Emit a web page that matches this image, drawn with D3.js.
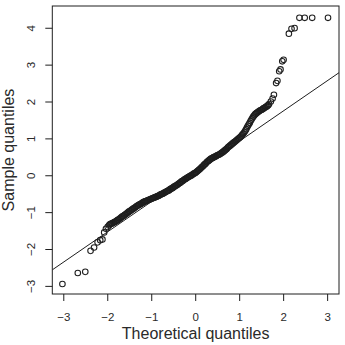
<!DOCTYPE html>
<html>
<head>
<meta charset="utf-8">
<script src="https://cdn.jsdelivr.net/npm/d3@7"></script>
<style>
  html, body { margin: 0; padding: 0; background: #fff; }
  svg { display: block; }
</style>
</head>
<body>
<svg id="chart" width="345" height="345"></svg>
<script>
// ---- data ----
const xTicks = [-3, -2, -1, 0, 1, 2, 3];
const yTicks = [-3, -2, -1, 0, 1, 2, 3, 4];
const xTitle = "Theoretical quantiles";
const yTitle = "Sample quantiles";

// lower tail: [theoretical, sample]
const lowerTail = [
  [-3.02,-2.95],[-2.67,-2.65],[-2.50,-2.62],[-2.38,-2.05],[-2.30,-1.96],[-2.22,-1.82],
  [-2.16,-1.76],[-2.11,-1.74],[-2.07,-1.55],[-2.03,-1.45],[-1.99,-1.40],[-1.96,-1.36]
];
// central band: [theoretical, sample]
const centralBand = [
  [-1.94,-1.33],[-1.90,-1.31],[-1.86,-1.29],[-1.82,-1.26],[-1.78,-1.23],[-1.74,-1.20],
  [-1.70,-1.16],[-1.66,-1.12],[-1.62,-1.09],[-1.58,-1.06],[-1.54,-1.02],[-1.50,-0.98],
  [-1.46,-0.95],[-1.42,-0.92],[-1.38,-0.88],[-1.34,-0.85],[-1.30,-0.82],[-1.26,-0.79],
  [-1.22,-0.76],[-1.18,-0.73],[-1.14,-0.71],[-1.10,-0.69],[-1.06,-0.67],[-1.02,-0.65],
  [-0.98,-0.63],[-0.94,-0.61],[-0.90,-0.59],[-0.86,-0.57],[-0.82,-0.55],[-0.78,-0.52],
  [-0.74,-0.50],[-0.70,-0.47],[-0.66,-0.45],[-0.62,-0.42],[-0.58,-0.39],[-0.54,-0.36],
  [-0.50,-0.33],[-0.46,-0.30],[-0.42,-0.27],[-0.38,-0.23],[-0.34,-0.20],[-0.30,-0.16],
  [-0.26,-0.13],[-0.22,-0.10],[-0.18,-0.07],[-0.14,-0.04],[-0.10,-0.01],[-0.06,0.02],
  [-0.02,0.05],[0.02,0.08],[0.06,0.12],[0.10,0.16],[0.14,0.21],[0.18,0.25],
  [0.22,0.30],[0.26,0.35],[0.30,0.39],[0.34,0.43],[0.38,0.46],[0.42,0.49],
  [0.46,0.51],[0.50,0.54],[0.54,0.56],[0.58,0.59],[0.62,0.62],[0.66,0.66],
  [0.70,0.70],[0.74,0.75],[0.78,0.79],[0.82,0.83],[0.86,0.87],[0.90,0.91],
  [0.94,0.95],[0.98,0.99],[1.02,1.03],[1.06,1.08],[1.10,1.14],[1.14,1.21],
  [1.18,1.30],[1.22,1.38],[1.26,1.47],[1.30,1.55],[1.34,1.62],[1.38,1.67],
  [1.42,1.71],[1.46,1.74],[1.50,1.77],[1.54,1.80],[1.58,1.83],[1.62,1.86],
  [1.66,1.90]
];
// central band, points lying between the ones above: [theoretical, sample]
const centralBandB = [
  [-1.92,-1.32],[-1.88,-1.30],[-1.84,-1.27],[-1.80,-1.25],[-1.76,-1.21],[-1.72,-1.18],
  [-1.68,-1.14],[-1.64,-1.11],[-1.60,-1.07],[-1.56,-1.04],[-1.52,-1.00],[-1.48,-0.97],
  [-1.44,-0.93],[-1.40,-0.90],[-1.36,-0.87],[-1.32,-0.83],[-1.28,-0.80],[-1.24,-0.78],
  [-1.20,-0.75],[-1.16,-0.72],[-1.12,-0.70],[-1.08,-0.68],[-1.04,-0.66],[-1.00,-0.64],
  [-0.96,-0.62],[-0.92,-0.60],[-0.88,-0.58],[-0.84,-0.56],[-0.80,-0.53],[-0.76,-0.51],
  [-0.72,-0.49],[-0.68,-0.46],[-0.64,-0.43],[-0.60,-0.41],[-0.56,-0.37],[-0.52,-0.35],
  [-0.48,-0.31],[-0.44,-0.28],[-0.40,-0.25],[-0.36,-0.22],[-0.32,-0.18],[-0.28,-0.15],
  [-0.24,-0.11],[-0.20,-0.08],[-0.16,-0.05],[-0.12,-0.02],[-0.08,0.00],[-0.04,0.04],
  [0.00,0.06],[0.04,0.10],[0.08,0.14],[0.12,0.18],[0.16,0.23],[0.20,0.28],
  [0.24,0.32],[0.28,0.37],[0.32,0.41],[0.36,0.45],[0.40,0.47],[0.44,0.50],
  [0.48,0.52],[0.52,0.55],[0.56,0.57],[0.60,0.61],[0.64,0.64],[0.68,0.68],
  [0.72,0.72],[0.76,0.77],[0.80,0.81],[0.84,0.85],[0.88,0.89],[0.92,0.93],
  [0.96,0.97],[1.00,1.01],[1.04,1.05],[1.08,1.11],[1.12,1.17],[1.16,1.25],
  [1.20,1.34],[1.24,1.42],[1.28,1.51],[1.32,1.59],[1.36,1.65],[1.40,1.69],
  [1.44,1.73],[1.48,1.76],[1.52,1.78],[1.56,1.82],[1.60,1.85],[1.64,1.88],
  [1.68,1.93]
];
// upper tail: [theoretical, sample]
const upperTail = [
  [1.72,2.00],[1.76,2.08],[1.79,2.18],[1.84,2.50],[1.87,2.56],[1.91,2.82],
  [1.94,2.87],[1.98,3.09],[2.01,3.13],[2.13,3.84],[2.19,3.97],[2.26,3.99],
  [2.37,4.27],[2.49,4.27],[2.66,4.27],[3.02,4.27]
];
// reference line (qqline): sample = intercept + slope * theoretical
const lineIntercept = 0.10;
const lineSlope = 0.82;

// ---- drawing ----
const plot = { left: 52.3, right: 339, top: 6, bottom: 294 };
const ink = "#1e1e1e";
const font = "'Liberation Sans', Arial, Helvetica, sans-serif";

const x = d3.scaleLinear().domain([-3.25, 3.27]).range([plot.left, plot.right]);
const y = d3.scaleLinear().domain([-3.22, 4.59]).range([plot.bottom, plot.top]);

const svg = d3.select("#chart");

svg.append("defs").append("clipPath").attr("id", "clip")
  .append("rect")
  .attr("x", plot.left).attr("y", plot.top)
  .attr("width", plot.right - plot.left).attr("height", plot.bottom - plot.top);

// reference line
const [x0, x1] = x.domain();
svg.append("line")
  .attr("clip-path", "url(#clip)")
  .attr("x1", x(x0)).attr("y1", y(lineIntercept + lineSlope * x0))
  .attr("x2", x(x1)).attr("y2", y(lineIntercept + lineSlope * x1))
  .attr("stroke", ink).attr("stroke-width", 1);

// points
const allPoints = lowerTail.concat(centralBand, centralBandB, upperTail);
svg.append("g")
  .selectAll("circle")
  .data(allPoints)
  .join("circle")
  .attr("cx", d => x(d[0]))
  .attr("cy", d => y(d[1]))
  .attr("r", 2.8)
  .attr("fill", "none")
  .attr("stroke", ink)
  .attr("stroke-width", 1.05);

// box
svg.append("rect")
  .attr("x", plot.left).attr("y", plot.top)
  .attr("width", plot.right - plot.left).attr("height", plot.bottom - plot.top)
  .attr("fill", "none").attr("stroke", ink).attr("stroke-width", 1);

// x axis
const xAxis = svg.append("g")
  .attr("transform", `translate(0,${plot.bottom})`)
  .call(d3.axisBottom(x).tickValues(xTicks).tickSize(7).tickPadding(0).tickFormat(d3.format("d")));
xAxis.select(".domain").remove();
xAxis.selectAll(".tick line").attr("stroke", ink);
xAxis.selectAll(".tick text")
  .attr("fill", "#2a2a2a")
  .attr("font-family", font).attr("font-size", 11.5)
  .attr("dy", null)
  .attr("y", 26.5);

// y axis
const yAxis = svg.append("g")
  .attr("transform", `translate(${plot.left},0)`)
  .call(d3.axisLeft(y).tickValues(yTicks).tickSize(7).tickFormat(d3.format("d")));
yAxis.select(".domain").remove();
yAxis.selectAll(".tick line").attr("stroke", ink);
yAxis.selectAll(".tick text")
  .attr("fill", "#2a2a2a")
  .attr("font-family", font).attr("font-size", 11.5)
  .attr("x", null).attr("dy", null)
  .attr("text-anchor", "middle")
  .attr("transform", `translate(${34.5 - plot.left},0) rotate(-90)`);

// titles
svg.append("text")
  .attr("x", (plot.left + plot.right) / 2).attr("y", 339)
  .attr("text-anchor", "middle")
  .attr("font-family", font).attr("font-size", 16)
  .attr("fill", "#2a2a2a")
  .text(xTitle);

svg.append("text")
  .attr("transform", `translate(13.5,${(plot.top + plot.bottom) / 2}) rotate(-90)`)
  .attr("text-anchor", "middle")
  .attr("font-family", font).attr("font-size", 16)
  .attr("fill", "#2a2a2a")
  .text(yTitle);
</script>
</body>
</html>
